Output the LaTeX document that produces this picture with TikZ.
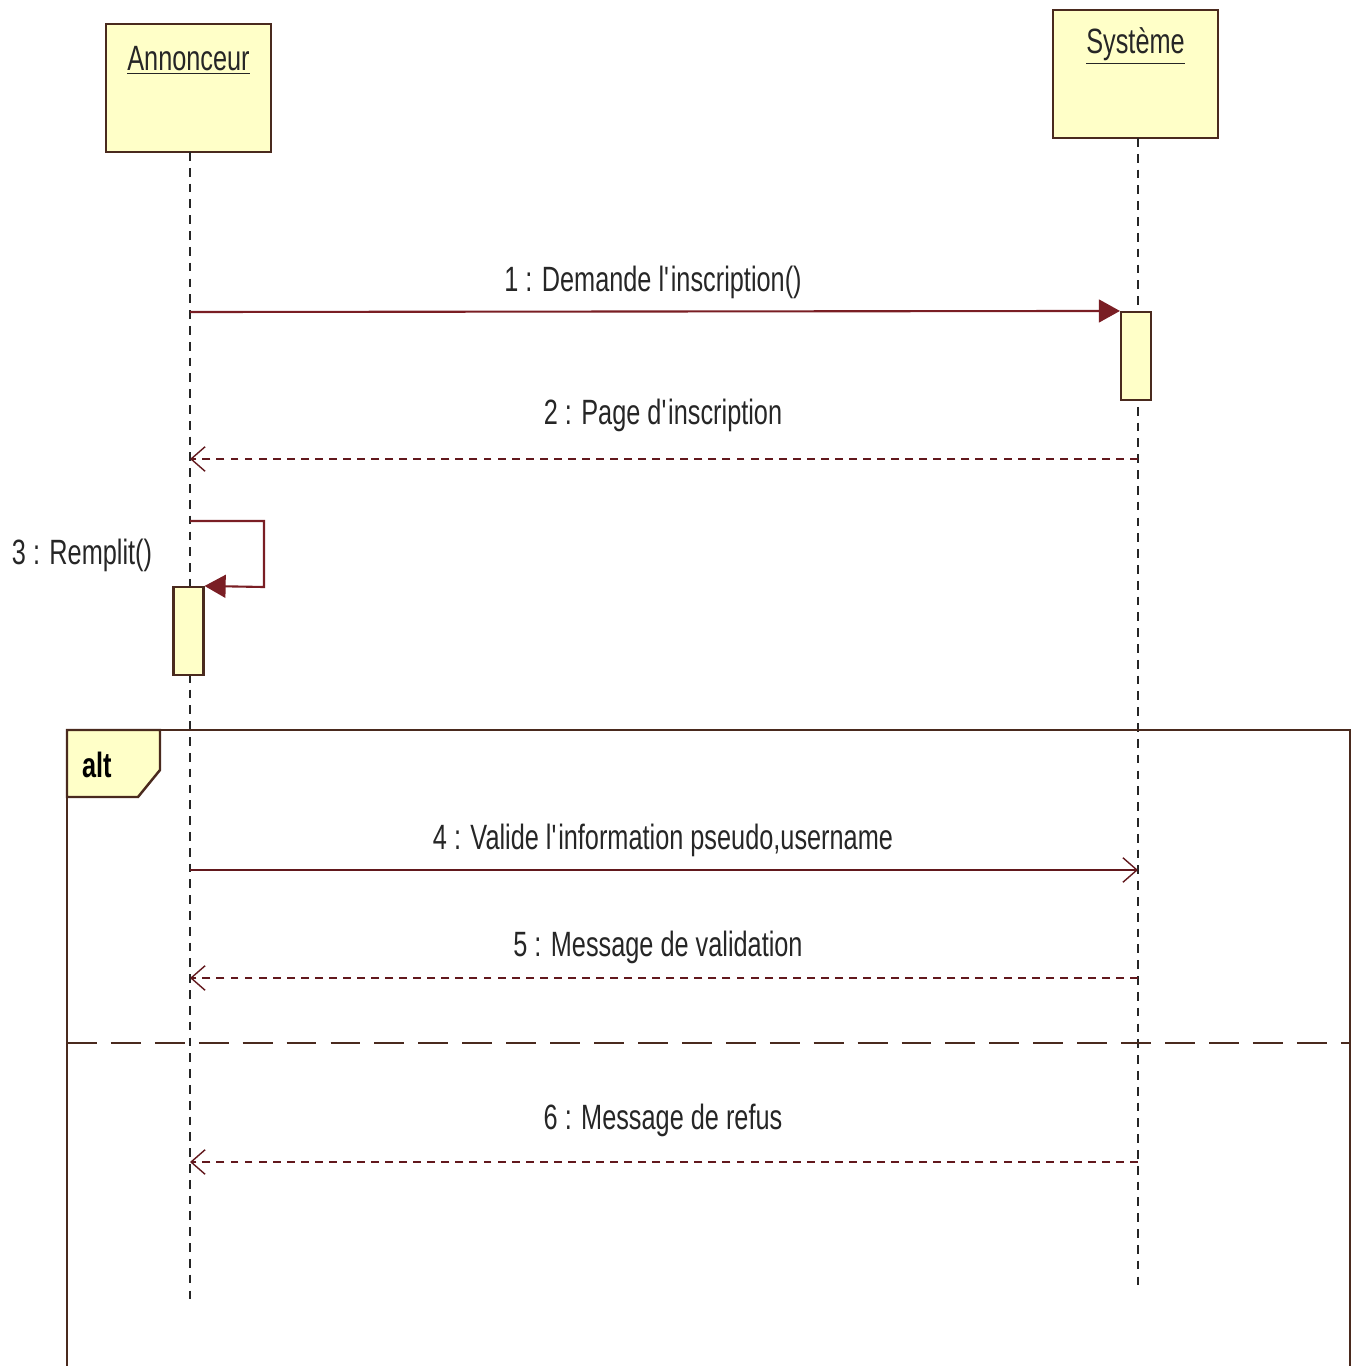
\documentclass[tikz,border=0pt]{standalone}
\usepackage{fontspec}
\setmainfont[FakeStretch=0.72]{Liberation Sans}
\usetikzlibrary{arrows.meta,positioning}

\definecolor{objfill}{HTML}{FFFFC8}
\definecolor{objline}{HTML}{4A2A1E}
\definecolor{msgred}{HTML}{7A1E24}

\tikzset{
  objbox/.style={draw=objline, fill=objfill, line width=1.4pt, minimum width=3.3cm, minimum height=2.56cm, inner sep=0pt},
  objname/.style={font=\fontsize{20}{22}\selectfont, text=black!85},
  lifeline/.style={draw=black!85, line width=1pt, dash pattern=on 5pt off 4pt},
  actbox/.style={draw=objline, fill=objfill, line width=1.2pt, minimum width=0.6cm, minimum height=1.76cm, inner sep=0pt},
  sync/.style={draw=msgred, line width=1.2pt, -{Triangle[length=12pt, width=13pt, fill=msgred]}},
  async/.style={draw=msgred!80!black, line width=1.2pt, -{Straight Barb[length=8pt, width=14pt, line width=0.8pt]}},
  reply/.style={draw=msgred!80!black, line width=1pt, dash pattern=on 4.5pt off 3.5pt, -{Straight Barb[length=8pt, width=14pt, line width=0.8pt]}},
  msglabel/.style={font=\fontsize{20}{22}\selectfont, text=black!85},
  frameline/.style={draw=objline, line width=1.4pt}
}

\begin{document}
\begin{tikzpicture}[x=0.02cm, y=-0.02cm]
    \useasboundingbox (0,0) rectangle (1353,1366);

    % Objects
    \node[objbox] (ann) at (188.5,88) {};
    \node[objname] (annName) at (188.5,60) {\underline{Annonceur}};
    \node[objbox] (sys) at (1135.5,74) {};
    \node[objname] (sysName) at (1135.5,46) {\underline{Système}};

    % Lifelines
    \coordinate (annEnd) at (190,1302);
    \coordinate (sysEnd) at (1138,1290);
    \draw[lifeline] (190,152) -- (annEnd);
    \draw[lifeline] (1138,138) -- (sysEnd);

    % Activations
    \node[actbox] (actSys) at (1136,356) {};
    \node[actbox] (actAnn) at (188.5,631) {};

    % Message anchors on the lifelines
    \coordinate (a1) at (190,312);
    \coordinate (s2) at (1138,459);
    \coordinate (a2) at (190,459);
    \coordinate (a3) at (190,521);
    \coordinate (r3) at (264,521);
    \coordinate (q3) at (264,587);
    \coordinate (a4) at (190,870);
    \coordinate (s4) at (1138,870);
    \coordinate (s5) at (1138,978);
    \coordinate (a5) at (190,978);
    \coordinate (s6) at (1138,1162);
    \coordinate (a6) at (190,1162);

    % Messages
    \draw[sync] (a1) -- (actSys.north west);
    \node[msglabel] (m1) at (653,282) {1 : Demande l\textquotesingle inscription()};
    \draw[reply] (s2) -- (a2);
    \node[msglabel] (m2) at (663,415) {2 : Page d\textquotesingle inscription};
    \draw[sync] (a3) -- (r3) -- (q3) -- (actAnn.north east);
    \node[msglabel] (m3) at (82,555) {3 : Remplit()};

    % alt frame
    \draw[frameline] (67,1366) -- (67,730) -- (1350,730) -- (1350,1366);
    \draw[frameline, fill=objfill] (67,730) -- (160,730) -- (160,770) -- (138,797) -- (67,797) -- cycle;
    \node[font=\fontsize{20}{22}\bfseries\selectfont] (altTag) at (97,765) {alt};
    \draw[frameline, dash pattern=on 17pt off 8pt] (67,1043) -- (1350,1043);

    \draw[async] (a4) -- (s4);
    \node[msglabel] (m4) at (663,840) {4 : Valide l\textquotesingle information pseudo,username};
    \draw[reply] (s5) -- (a5);
    \node[msglabel] (m5) at (658,947) {5 : Message de validation};
    \draw[reply] (s6) -- (a6);
    \node[msglabel] (m6) at (663,1120) {6 : Message de refus};
\end{tikzpicture}
\end{document}
